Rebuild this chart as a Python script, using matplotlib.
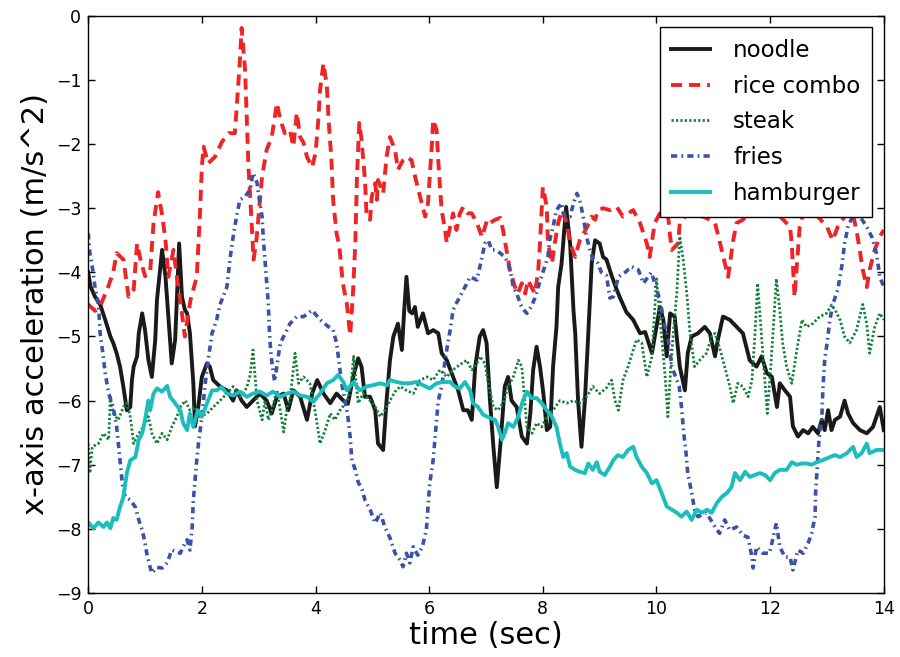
import matplotlib
matplotlib.use("Agg")
import matplotlib.pyplot as plt

# time (sec) and x-axis acceleration (m/s^2)

noodle_t = [0, 0.04, 0.12, 0.21, 0.3, 0.39, 0.44, 0.5, 0.56, 0.62, 0.68, 0.74, 0.77, 0.8, 0.86,
            0.89, 0.95, 1.0, 1.06, 1.12, 1.18, 1.21, 1.3, 1.36, 1.41, 1.47, 1.53, 1.56, 1.6, 1.65,
            1.7, 1.74, 1.79, 1.85, 1.88, 1.93, 2.0, 2.09, 2.14, 2.2, 2.32, 2.44, 2.55, 2.61, 2.7,
            2.79, 2.9, 3.02, 3.14, 3.23, 3.32, 3.44, 3.52, 3.61, 3.73, 3.85, 3.94, 4.03, 4.14,
            4.26, 4.37, 4.49, 4.57, 4.67, 4.75, 4.81, 4.87, 4.96, 5.05, 5.1, 5.19, 5.25, 5.31,
            5.37, 5.45, 5.52, 5.56, 5.6, 5.65, 5.7, 5.75, 5.8, 5.89, 5.98, 6.07, 6.16, 6.22, 6.31,
            6.42, 6.51, 6.6, 6.68, 6.75, 6.81, 6.89, 6.95, 7.01, 7.07, 7.13, 7.19, 7.25, 7.33,
            7.39, 7.45, 7.54, 7.63, 7.72, 7.78, 7.83, 7.89, 7.95, 8.01, 8.07, 8.13, 8.18, 8.24,
            8.27, 8.33, 8.41, 8.48, 8.54, 8.57, 8.62, 8.68, 8.74, 8.8, 8.86, 8.92, 9.0, 9.06,
            9.12, 9.21, 9.3, 9.36, 9.47, 9.59, 9.71, 9.8, 9.92, 10.0, 10.06, 10.12, 10.18, 10.24,
            10.32, 10.41, 10.5, 10.55, 10.62, 10.73, 10.85, 10.94, 11.03, 11.08, 11.17, 11.29,
            11.41, 11.52, 11.64, 11.76, 11.85, 11.94, 12.03, 12.12, 12.17, 12.26, 12.35, 12.4,
            12.49, 12.58, 12.67, 12.75, 12.84, 12.91, 12.96, 13.02, 13.08, 13.14, 13.23, 13.31,
            13.37, 13.46, 13.58, 13.7, 13.81, 13.93, 14.0]
noodle_v = [-4.0, -4.22, -4.38, -4.5, -4.74, -5.0, -5.1, -5.26, -5.47, -5.79, -6.15, -6.1, -5.68,
            -5.47, -5.31, -4.95, -4.64, -4.9, -5.37, -5.63, -5.05, -4.43, -3.65, -4.07, -4.69,
            -5.42, -5.05, -4.43, -3.55, -4.38, -4.58, -4.64, -4.95, -5.73, -6.4, -6.15, -5.63,
            -5.42, -5.47, -5.68, -5.78, -5.84, -6.0, -5.84, -6.0, -6.1, -6.0, -5.89, -6.0, -6.2,
            -5.94, -5.89, -6.15, -5.84, -5.94, -6.3, -5.89, -5.68, -5.89, -6.04, -5.89, -6.0,
            -6.05, -5.6, -5.34, -5.47, -5.94, -5.94, -6.15, -6.67, -6.77, -6.0, -5.37, -5.0,
            -4.8, -5.21, -4.6, -4.07, -4.6, -4.64, -4.54, -4.85, -4.64, -4.95, -4.9, -4.95,
            -5.26, -5.37, -5.63, -5.84, -6.15, -6.15, -6.3, -5.47, -5.0, -4.9, -5.1, -6.0, -6.72,
            -7.35, -6.72, -5.78, -5.63, -6.0, -6.1, -6.56, -6.67, -6.2, -5.52, -5.16, -5.47,
            -5.89, -6.46, -6.41, -5.47, -4.85, -4.23, -3.86, -2.98, -3.55, -4.6, -4.95, -6.0,
            -6.72, -6.0, -4.95, -3.86, -3.5, -3.55, -3.76, -3.8, -4.05, -4.27, -4.4, -4.62,
            -4.74, -4.95, -4.93, -5.26, -4.85, -4.54, -4.74, -5.31, -4.64, -4.69, -5.47, -5.84,
            -5.26, -5.0, -4.95, -4.85, -4.95, -5.31, -5.05, -4.69, -4.74, -4.85, -4.95, -5.37,
            -5.47, -5.31, -5.57, -5.63, -6.1, -5.73, -5.84, -5.94, -6.4, -6.56, -6.46, -6.51,
            -6.41, -6.51, -6.3, -6.46, -6.15, -6.46, -6.3, -6.25, -6.0, -6.2, -6.35, -6.46,
            -6.51, -6.41, -6.1, -6.46]

rice_t = [0, 0.12, 0.2, 0.35, 0.44, 0.5, 0.62, 0.71, 0.8, 0.86, 0.92, 1.0, 1.09, 1.15, 1.23, 1.3,
          1.36, 1.41, 1.5, 1.56, 1.62, 1.7, 1.8, 1.91, 1.97, 2.0, 2.03, 2.11, 2.23, 2.35, 2.47,
          2.58, 2.61, 2.67, 2.7, 2.76, 2.79, 2.82, 2.85, 2.88, 2.91, 2.96, 3.06, 3.14, 3.23,
          3.32, 3.38, 3.46, 3.55, 3.61, 3.67, 3.73, 3.79, 3.85, 3.94, 4.0, 4.05, 4.08, 4.14,
          4.2, 4.23, 4.28, 4.31, 4.37, 4.42, 4.48, 4.55, 4.61, 4.66, 4.7, 4.73, 4.77, 4.81,
          4.84, 4.87, 4.9, 4.96, 4.99, 5.05, 5.08, 5.1, 5.19, 5.25, 5.31, 5.4, 5.45, 5.54, 5.6,
          5.69, 5.75, 5.84, 5.93, 5.98, 6.01, 6.05, 6.07, 6.13, 6.16, 6.19, 6.22, 6.28, 6.31,
          6.37, 6.42, 6.48, 6.54, 6.6, 6.68, 6.75, 6.84, 6.93, 7.02, 7.07, 7.16, 7.25, 7.3,
          7.36, 7.42, 7.51, 7.56, 7.63, 7.69, 7.74, 7.8, 7.86, 7.92, 7.95, 7.98, 8.0, 8.07,
          8.09, 8.16, 8.21, 8.27, 8.34, 8.42, 8.48, 8.57, 8.65, 8.78, 8.86, 8.92, 8.97, 9.06,
          9.18, 9.3, 9.41, 9.59, 9.71, 9.83, 9.88, 9.97, 10.06, 10.2, 10.24, 10.27, 10.38,
          10.41, 10.55, 10.67, 10.82, 10.94, 11.03, 11.12, 11.26, 11.35, 11.41, 11.52, 11.7,
          11.9, 12.1, 12.2, 12.35, 12.38, 12.43, 12.52, 12.58, 12.84, 13.0, 13.1, 13.19,
          13.31, 13.45, 13.54, 13.63, 13.7, 13.75, 13.84, 13.93, 14.0]
rice_v = [-4.5, -4.6, -4.55, -4.23, -4.0, -3.7, -3.8, -4.38, -4.27, -3.55, -3.8, -4.06, -4.0,
          -3.23, -2.75, -3.1, -3.5, -4.07, -3.65, -4.07, -4.43, -5.0, -4.43, -4.07, -3.03,
          -2.35, -2.04, -2.3, -2.2, -1.97, -1.83, -1.83, -1.47, -0.69, -0.19, -0.84, -1.62,
          -2.35, -2.82, -3.29, -3.8, -3.5, -2.5, -2.09, -1.89, -1.36, -1.62, -1.83, -1.78,
          -2.04, -1.51, -1.89, -1.98, -2.2, -2.36, -2.14, -1.62, -1.15, -0.74, -1.1, -1.62,
          -2.25, -2.87, -3.39, -3.6, -4.17, -4.48, -4.98, -4.3, -3.55, -2.5, -1.67, -1.93,
          -2.25, -2.56, -3.13, -3.18, -2.82, -2.61, -2.87, -2.56, -2.77, -2.2, -1.89, -2.09,
          -2.4, -2.25, -2.2, -2.25, -2.5, -2.82, -3.13, -2.92, -2.5, -1.98, -1.62, -1.78,
          -2.25, -2.67, -3.03, -3.34, -3.54, -3.29, -3.08, -3.34, -3.08, -2.98, -3.08, -3.08,
          -3.23, -3.45, -3.18, -3.23, -3.18, -3.15, -3.34, -3.65, -3.96, -4.23, -4.33, -4.17,
          -4.33, -4.12, -4.23, -4.33, -3.96, -3.55, -3.03, -2.67, -2.98, -3.54, -3.86, -3.55,
          -3.23, -3.03, -3.23, -3.55, -3.76, -3.5, -3.29, -3.13, -3.18, -3.03, -3.0, -3.03,
          -2.98, -3.13, -3.03, -3.23, -3.55, -3.76, -3.23, -3.08, -3.08, -3.44, -3.65, -3.55,
          -3.23, -3.08, -3.1, -3.13, -3.18, -3.23, -3.55, -4.07, -3.5, -3.23, -3.18, -3.0,
          -2.95, -3.08, -3.15, -3.29, -3.55, -4.38, -3.29, -3.08, -3.13, -3.29, -3.5, -3.29,
          -3.13, -3.05, -3.45, -3.96, -4.23, -3.96, -3.65, -3.44, -3.34]

steak_t = [0, 0.03, 0.07, 0.18, 0.27, 0.36, 0.39, 0.44, 0.53, 0.62, 0.68, 0.74, 0.8, 0.89, 0.97,
           1.06, 1.12, 1.21, 1.3, 1.39, 1.47, 1.56, 1.62, 1.71, 1.79, 1.88, 1.97, 2.09, 2.2,
           2.32, 2.44, 2.55, 2.67, 2.79, 2.85, 2.9, 2.97, 3.06, 3.11, 3.17, 3.23, 3.32, 3.38,
           3.44, 3.5, 3.55, 3.64, 3.7, 3.79, 3.9, 4.0, 4.08, 4.17, 4.26, 4.34, 4.43, 4.55, 4.62,
           4.67, 4.75, 4.84, 4.96, 5.05, 5.14, 5.22, 5.31, 5.4, 5.49, 5.6, 5.72, 5.84, 5.96,
           6.07, 6.19, 6.31, 6.42, 6.54, 6.66, 6.75, 6.84, 6.89, 6.98, 7.04, 7.13, 7.21, 7.3,
           7.39, 7.48, 7.57, 7.63, 7.72, 7.81, 7.89, 7.98, 8.07, 8.18, 8.3, 8.42, 8.54, 8.65,
           8.77, 8.88, 9.0, 9.12, 9.21, 9.27, 9.33, 9.41, 9.5, 9.59, 9.65, 9.74, 9.83, 9.92,
           10.0, 10.08, 10.15, 10.2, 10.25, 10.3, 10.36, 10.41, 10.47, 10.53, 10.59, 10.67,
           10.76, 10.88, 10.97, 11.03, 11.12, 11.2, 11.29, 11.35, 11.43, 11.52, 11.61, 11.68,
           11.73, 11.78, 11.84, 11.9, 11.95, 12.0, 12.05, 12.11, 12.17, 12.22, 12.29, 12.38,
           12.47, 12.56, 12.64, 12.75, 12.87, 12.99, 13.08, 13.15, 13.23, 13.31, 13.4, 13.52,
           13.63, 13.7, 13.75, 13.84, 13.93, 14.0]
steak_v = [-6.67, -7.13, -6.72, -6.67, -6.51, -6.61, -5.94, -6.2, -6.3, -6.1, -6.04, -6.25,
           -6.67, -6.51, -6.41, -6.25, -6.51, -6.67, -6.51, -6.61, -6.41, -6.25, -6.1, -6.0,
           -6.15, -6.1, -6.25, -6.2, -6.1, -6.0, -5.89, -5.78, -5.94, -5.8, -5.6, -5.21, -6.0,
           -6.3, -6.0, -6.3, -6.15, -5.84, -6.15, -6.49, -6.1, -6.0, -5.26, -5.73, -5.63,
           -5.73, -6.2, -6.67, -6.46, -6.2, -6.3, -6.15, -6.02, -5.8, -5.31, -6.04, -5.89,
           -6.0, -6.1, -6.25, -6.15, -6.0, -5.86, -5.78, -5.84, -5.89, -5.68, -5.63, -5.68,
           -5.52, -5.63, -5.52, -5.44, -5.37, -5.52, -5.42, -5.31, -5.42, -5.73, -6.1, -6.15,
           -6.04, -5.78, -5.63, -5.37, -5.47, -6.41, -6.51, -6.35, -6.41, -6.25, -6.15, -6.0,
           -6.04, -6.0, -6.04, -5.94, -5.78, -5.89, -5.8, -5.68, -6.0, -6.15, -5.68, -5.47,
           -5.21, -5.05, -5.1, -5.63, -5.31, -4.1, -4.9, -5.6, -6.25, -5.5, -4.9, -4.3, -3.44,
           -3.8, -4.3, -4.95, -5.47, -5.37, -5.26, -5.0, -4.95, -5.21, -5.47, -5.78, -6.04,
           -5.73, -5.78, -5.94, -5.68, -5.0, -4.17, -4.9, -5.6, -6.2, -5.6, -4.95, -4.1, -4.6,
           -5.1, -5.47, -5.73, -5.21, -4.74, -4.85, -4.8, -4.69, -4.64, -4.51, -4.6, -4.74,
           -5.0, -5.1, -4.9, -4.5, -4.8, -5.26, -4.85, -4.64, -4.74]

fries_t = [0, 0.03, 0.07, 0.12, 0.18, 0.21, 0.25, 0.3, 0.36, 0.44, 0.5, 0.56, 0.6, 0.65, 0.74,
           0.83, 0.89, 0.95, 0.99, 1.03, 1.09, 1.12, 1.21, 1.3, 1.39, 1.47, 1.56, 1.62, 1.67,
           1.74, 1.79, 1.83, 1.85, 1.88, 1.91, 1.94, 2.0, 2.06, 2.11, 2.18, 2.26, 2.32, 2.44,
           2.5, 2.55, 2.61, 2.67, 2.76, 2.85, 2.9, 2.97, 3.02, 3.06, 3.08, 3.11, 3.14, 3.17,
           3.19, 3.21, 3.24, 3.28, 3.33, 3.38, 3.47, 3.55, 3.67, 3.79, 3.94, 4.08, 4.23, 4.31,
           4.37, 4.41, 4.46, 4.52, 4.57, 4.61, 4.64, 4.7, 4.75, 4.82, 4.87, 4.96, 5.05, 5.14,
           5.22, 5.31, 5.4, 5.49, 5.54, 5.6, 5.66, 5.72, 5.8, 5.88, 5.95, 5.98, 6.01, 6.07, 6.1,
           6.13, 6.16, 6.22, 6.28, 6.33, 6.37, 6.42, 6.48, 6.54, 6.63, 6.72, 6.84, 6.93, 6.98,
           7.04, 7.1, 7.16, 7.25, 7.33, 7.39, 7.45, 7.48, 7.54, 7.63, 7.72, 7.8, 7.86, 7.92,
           8.0, 8.09, 8.12, 8.18, 8.24, 8.33, 8.39, 8.48, 8.54, 8.6, 8.65, 8.71, 8.77, 8.83,
           8.88, 8.97, 9.03, 9.12, 9.18, 9.24, 9.33, 9.45, 9.56, 9.68, 9.77, 9.91, 9.97, 10.06,
           10.15, 10.2, 10.27, 10.4, 10.44, 10.48, 10.52, 10.55, 10.62, 10.67, 10.73, 10.88,
           11.03, 11.11, 11.2, 11.29, 11.41, 11.52, 11.61, 11.68, 11.7, 11.76, 11.87, 11.99,
           12.11, 12.17, 12.26, 12.35, 12.4, 12.49, 12.58, 12.67, 12.73, 12.79, 12.8, 12.83,
           12.86, 12.91, 12.93, 12.96, 13.01, 13.05, 13.11, 13.19, 13.26, 13.31, 13.37, 13.45,
           13.58, 13.7, 13.79, 13.87, 13.93, 14.0]
fries_v = [-3.39, -3.7, -3.9, -4.23, -4.5, -4.95, -5.21, -5.57, -5.89, -6.1, -6.4, -6.93, -7.29,
           -7.5, -7.55, -7.66, -7.86, -8.02, -8.17, -8.38, -8.6, -8.69, -8.6, -8.61, -8.53,
           -8.33, -8.36, -8.38, -8.28, -8.17, -8.33, -7.97, -7.55, -7.24, -6.93, -6.67, -6.25,
           -5.73, -5.37, -4.95, -4.74, -4.5, -4.23, -3.76, -3.45, -3.13, -2.87, -2.82, -2.71,
           -2.45, -2.6, -2.92, -3.13, -3.45, -3.8, -4.17, -4.5, -4.95, -5.21, -5.47, -5.7,
           -5.4, -5.1, -4.95, -4.8, -4.69, -4.69, -4.59, -4.74, -4.85, -4.9, -5.1, -5.37,
           -5.73, -6.0, -6.25, -6.57, -6.93, -7.08, -7.27, -7.39, -7.55, -7.7, -7.91, -7.75,
           -7.97, -8.14, -8.38, -8.49, -8.59, -8.38, -8.53, -8.28, -8.41, -8.28, -8.02, -7.66,
           -7.29, -6.93, -6.61, -6.3, -6.0, -5.78, -5.37, -5.1, -4.9, -4.59, -4.48, -4.38,
           -4.23, -4.07, -4.12, -3.76, -3.55, -3.5, -3.65, -3.65, -3.7, -3.76, -3.86, -4.07,
           -4.23, -4.33, -4.55, -4.64, -4.53, -4.4, -4.23, -4.0, -3.76, -3.5, -3.29, -3.03,
           -2.92, -3.13, -3.13, -2.92, -2.77, -2.87, -3.13, -3.45, -3.65, -3.8, -3.86, -4.0,
           -4.05, -4.4, -4.38, -4.07, -4.0, -3.91, -3.96, -4.17, -4.0, -4.17, -4.43, -4.85,
           -5.0, -5.47, -5.78, -6.1, -6.51, -6.82, -7.13, -7.44, -7.7, -7.81, -7.75, -7.97,
           -8.07, -7.86, -8.02, -7.97, -8.1, -8.13, -8.44, -8.61, -8.28, -8.38, -8.38, -7.91,
           -8.28, -8.44, -8.44, -8.64, -8.33, -8.38, -8.22, -8.07, -7.81, -7.44, -7.03, -6.61,
           -6.25, -5.78, -5.37, -5.05, -4.74, -4.48, -4.27, -3.91, -3.55, -3.29, -3.13, -3.13,
           -3.29, -3.45, -3.7, -4.07, -4.23]

burger_t = [0, 0.09, 0.18, 0.27, 0.33, 0.39, 0.44, 0.5, 0.56, 0.62, 0.68, 0.74, 0.83, 0.89, 0.95,
            1.0, 1.06, 1.09, 1.15, 1.21, 1.3, 1.39, 1.44, 1.53, 1.62, 1.67, 1.74, 1.79, 1.85,
            1.93, 2.0, 2.09, 2.18, 2.26, 2.35, 2.44, 2.55, 2.67, 2.79, 2.9, 3.02, 3.14, 3.25,
            3.38, 3.5, 3.61, 3.73, 3.85, 3.96, 4.08, 4.2, 4.31, 4.4, 4.49, 4.55, 4.67, 4.78,
            4.9, 5.01, 5.14, 5.26, 5.31, 5.43, 5.54, 5.66, 5.78, 5.89, 6.01, 6.13, 6.24, 6.37,
            6.45, 6.54, 6.63, 6.72, 6.77, 6.86, 6.95, 7.07, 7.16, 7.21, 7.28, 7.33, 7.39, 7.48,
            7.56, 7.65, 7.72, 7.8, 7.89, 7.98, 8.07, 8.16, 8.24, 8.3, 8.36, 8.42, 8.48, 8.57,
            8.65, 8.74, 8.8, 8.88, 8.95, 9.0, 9.09, 9.18, 9.24, 9.32, 9.41, 9.5, 9.59, 9.65,
            9.74, 9.83, 9.92, 10.0, 10.09, 10.18, 10.27, 10.36, 10.44, 10.53, 10.62, 10.71,
            10.8, 10.89, 10.97, 11.06, 11.15, 11.24, 11.32, 11.38, 11.47, 11.56, 11.64, 11.73,
            11.82, 11.91, 12.0, 12.08, 12.17, 12.29, 12.38, 12.47, 12.56, 12.65, 12.73, 12.82,
            12.92, 13.05, 13.14, 13.23, 13.35, 13.46, 13.52, 13.61, 13.7, 13.75, 13.87, 14.0]
burger_v = [-7.9, -7.99, -7.9, -7.97, -7.9, -7.99, -7.83, -7.86, -7.66, -7.5, -7.13, -6.93,
            -6.88, -6.61, -6.51, -6.3, -6.0, -6.15, -5.89, -5.81, -5.86, -5.77, -5.94, -6.04,
            -6.15, -6.35, -6.46, -6.2, -6.41, -6.15, -6.25, -6.04, -5.84, -5.84, -5.79, -5.89,
            -5.92, -5.86, -5.94, -5.89, -5.86, -5.92, -5.86, -5.94, -5.89, -5.86, -5.92, -5.94,
            -6.02, -5.89, -5.73, -5.68, -5.6, -5.71, -5.84, -5.71, -5.84, -5.78, -5.76, -5.73,
            -5.76, -5.68, -5.71, -5.73, -5.73, -5.71, -5.76, -5.81, -5.73, -5.71, -5.71, -5.78,
            -5.81, -5.71, -5.84, -6.04, -6.1, -6.22, -6.27, -6.3, -6.4, -6.61, -6.51, -6.35,
            -6.41, -6.27, -6.0, -5.86, -5.96, -5.96, -6.04, -6.15, -6.25, -6.41, -6.67, -6.88,
            -6.82, -7.03, -7.08, -7.11, -7.13, -6.98, -7.08, -6.96, -7.11, -7.16, -7.03, -6.93,
            -6.85, -6.88, -6.77, -6.72, -6.88, -7.03, -7.13, -7.29, -7.24, -7.44, -7.65, -7.7,
            -7.75, -7.81, -7.73, -7.86, -7.7, -7.75, -7.7, -7.75, -7.6, -7.5, -7.44, -7.35,
            -7.13, -7.24, -7.11, -7.19, -7.16, -7.13, -7.16, -7.24, -7.13, -7.08, -7.08, -6.96,
            -7.0, -6.98, -6.98, -7.0, -6.96, -6.93, -6.88, -6.85, -6.88, -6.82, -6.72, -6.88,
            -6.82, -6.67, -6.82, -6.77, -6.77]

plt.rcParams['lines.scale_dashes'] = False

fig = plt.figure(figsize=(9, 6.57), dpi=100)
ax = fig.add_axes([0.098, 0.0974, 0.884, 0.8785])

ax.plot(noodle_t, noodle_v, color='#1a1a1a', lw=2.8, label='noodle')
ax.plot(rice_t, rice_v, color='#ee2427', lw=2.8, dashes=(8, 5), label='rice combo')
ax.plot(steak_t, steak_v, color='#13803a', lw=2.0, dashes=(1.6, 1.6), label='steak')
ax.plot(fries_t, fries_v, color='#3a52a8', lw=2.6, dashes=(4.5, 3, 1.2, 3), label='fries')
ax.plot(burger_t, burger_v, color='#1cbdbd', lw=2.8, label='hamburger')

ax.set_xlim(0, 14)
ax.set_ylim(-9, 0)
ax.set_xticks(range(0, 15, 2))
ax.set_yticks(range(-9, 1))
ax.tick_params(direction='in', top=True, right=True, length=5, width=1, labelsize=12.5, pad=5)
for s in ax.spines.values():
    s.set_linewidth(1)

ax.set_xlabel('time (sec)', fontsize=22, labelpad=2)
ax.set_ylabel('x-axis acceleration (m/s^2)', fontsize=22, labelpad=4)

leg = ax.legend(loc='upper right', fontsize=16.5, fancybox=False, framealpha=1,
                edgecolor='black', handlelength=1.7, handletextpad=1.0, labelspacing=0.56,
                borderpad=0.5, borderaxespad=0.5)
leg.get_frame().set_linewidth(1)

fig.savefig('out.png', dpi=100)
